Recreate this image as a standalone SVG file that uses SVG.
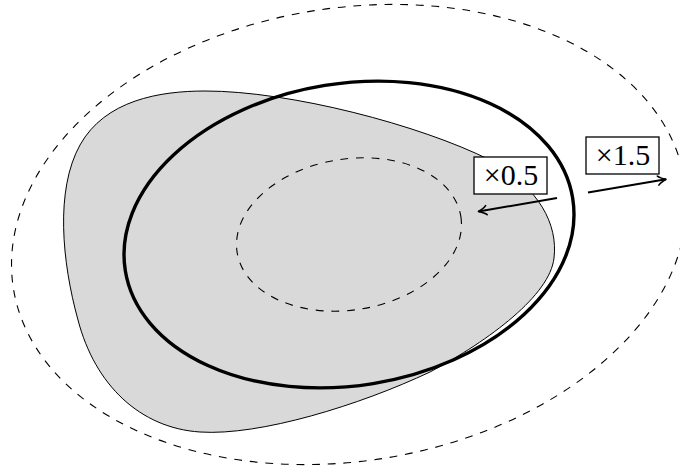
<svg xmlns="http://www.w3.org/2000/svg" width="680" height="473" viewBox="0 0 680 473">
  <style>
    .dash { fill: none; stroke: #000; stroke-width: 1.1; stroke-dasharray: 7.8 7.8; }
    .thick { fill: none; stroke: #000; stroke-width: 3.4; }
    .blob { fill: #d9d9d9; stroke: #000; stroke-width: 1; }
    .box { fill: #fff; stroke: #000; stroke-width: 1.3; }
    .lbl { font-family: "Liberation Serif", "Times New Roman", serif; font-size: 30px; fill: #000; text-anchor: middle; }
    .arrow { fill: none; stroke: #000; stroke-width: 2; marker-end: url(#tip); }
  </style>
  <defs>
    <marker id="tip" markerUnits="userSpaceOnUse" orient="auto" markerWidth="14" markerHeight="14" viewBox="-10 -7 12 14" refX="0" refY="0" overflow="visible">
      <path d="M-8,-4.6 C-6,-2.5 -2,-0.8 0,0 C-2,0.8 -6,2.5 -8,4.6" fill="none" stroke="#000" stroke-width="1.6" stroke-linecap="round" stroke-linejoin="round"/>
    </marker>
  </defs>
  <rect width="680" height="473" fill="#fff"/>

  <g id="region">
    <path class="blob" d="M205,91 C290,91 420,125 490,160 C540,188 558,225 554,258 C550,295 490,340 430,372 C360,405 260,436 200,432 C140,428 95,385 78,320 C62,262 55,190 80,145 C105,100 160,91 205,91 Z"/>
  </g>

  <g id="outer-ellipse">
    <ellipse class="dash" cx="0" cy="0" rx="339.9" ry="226.5" transform="translate(349 234.5) rotate(-9.2)"/>
  </g>
  <g id="inner-ellipse">
    <ellipse class="dash" cx="0" cy="0" rx="113.3" ry="75.5" transform="translate(349 234.5) rotate(-9.2)"/>
  </g>
  <g id="ellipse">
    <ellipse class="thick" cx="0" cy="0" rx="226.6" ry="151" transform="translate(349 234.5) rotate(-9.2)"/>
  </g>

  <g id="connectors">
    <path class="arrow" d="M557,198 L478.5,211.5"/>
    <path class="arrow" d="M588,192.5 L666,179.3"/>
  </g>

  <g id="label-half">
    <rect class="box" x="474" y="157" width="73" height="37"/>
    <text class="lbl" x="511" y="184.5">×0.5</text>
  </g>
  <g id="label-onehalf">
    <rect class="box" x="586" y="137" width="73" height="37"/>
    <text class="lbl" x="623" y="165">×1.5</text>
  </g>
</svg>
